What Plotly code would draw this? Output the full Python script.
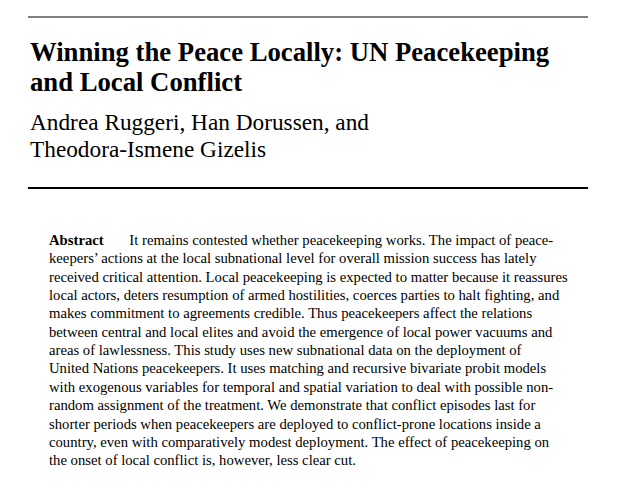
import plotly.graph_objects as go

title_lines = ["Winning the Peace Locally: UN Peacekeeping", "and Local Conflict"]
author_lines = ["Andrea Ruggeri, Han Dorussen, and", "Theodora-Ismene Gizelis"]
abstract_lines = [
    "<b>Abstract</b>       It remains contested whether peacekeeping works. The impact of peace-",
    "keepers\u2019 actions at the local subnational level for overall mission success has lately",
    "received critical attention. Local peacekeeping is expected to matter because it reassures",
    "local actors, deters resumption of armed hostilities, coerces parties to halt fighting, and",
    "makes commitment to agreements credible. Thus peacekeepers affect the relations",
    "between central and local elites and avoid the emergence of local power vacuums and",
    "areas of lawlessness. This study uses new subnational data on the deployment of",
    "United Nations peacekeepers. It uses matching and recursive bivariate probit models",
    "with exogenous variables for temporal and spatial variation to deal with possible non-",
    "random assignment of the treatment. We demonstrate that conflict episodes last for",
    "shorter periods when peacekeepers are deployed to conflict-prone locations inside a",
    "country, even with comparatively modest deployment. The effect of peacekeeping on",
    "the onset of local conflict is, however, less clear cut.",
]

serif = "Liberation Serif, Times New Roman, serif"
fig = go.Figure()

fig.add_shape(type="line", x0=28, x1=588, y0=17, y1=17, line=dict(color="black", width=1))
fig.add_shape(type="line", x0=28, x1=588, y0=188, y1=188, line=dict(color="black", width=2))

for i, t in enumerate(title_lines):
    fig.add_annotation(x=28, y=52 + i * 30, text="<b>" + t + "</b>", showarrow=False,
                       xanchor="left", yanchor="middle", font=dict(family=serif, size=26.7, color="black"))
for i, t in enumerate(author_lines):
    fig.add_annotation(x=28, y=122 + i * 27, text=t, showarrow=False,
                       xanchor="left", yanchor="middle", font=dict(family=serif, size=23.3, color="black"))
for i, t in enumerate(abstract_lines):
    fig.add_annotation(x=47, y=240 + i * 18.35, text=t, showarrow=False,
                       xanchor="left", yanchor="middle", font=dict(family=serif, size=14.7, color="black"))

# page body has an 8px margin, so shift the ranges to compensate
fig.update_xaxes(range=[8, 630], visible=False)
fig.update_yaxes(range=[499, 8], visible=False)
fig.update_layout(width=622, height=491, margin=dict(l=0, r=0, t=0, b=0),
                  plot_bgcolor="white", paper_bgcolor="white", showlegend=False)
fig.write_html("out.html")
